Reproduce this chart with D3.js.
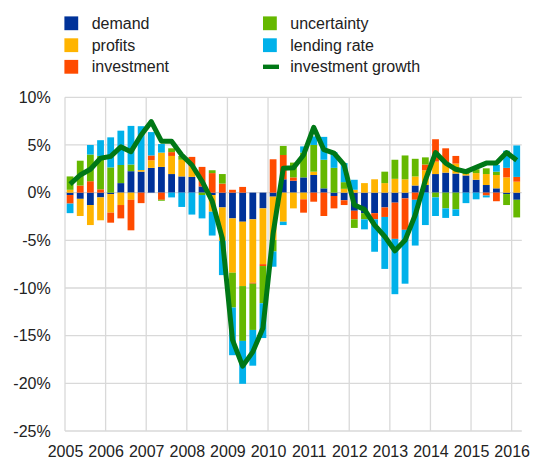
<!DOCTYPE html>
<html>
<head>
<meta charset="utf-8">
<script src="https://cdn.jsdelivr.net/npm/d3@7"></script>
<style>
  body { margin: 0; background: #fff; }
  svg text { font-family: "Liberation Sans", Arial, sans-serif; fill: #222; }
</style>
</head>
<body>
<svg id="chart" width="534" height="459"></svg>
<script>
// Quarterly contributions to investment growth (percentage points), 2005Q1-2016Q1
const quarters = [
  "2005Q1","2005Q2","2005Q3","2005Q4","2006Q1","2006Q2","2006Q3","2006Q4",
  "2007Q1","2007Q2","2007Q3","2007Q4","2008Q1","2008Q2","2008Q3","2008Q4",
  "2009Q1","2009Q2","2009Q3","2009Q4","2010Q1","2010Q2","2010Q3","2010Q4",
  "2011Q1","2011Q2","2011Q3","2011Q4","2012Q1","2012Q2","2012Q3","2012Q4",
  "2013Q1","2013Q2","2013Q3","2013Q4","2014Q1","2014Q2","2014Q3","2014Q4",
  "2015Q1","2015Q2","2015Q3","2015Q4","2016Q1"
];
const demand = [
  -0.25,-0.65,-1.3,-0.5,-0.15,1.0,2.25,2.2,
  2.6,2.7,1.95,1.7,1.65,0.65,-0.25,-1.55,
  -2.7,-3.05,-2.8,-1.65,-0.42,1.4,1.25,1.6,
  1.85,0.45,-0.35,-0.8,-1.9,-2.15,-2.15,-1.55,
  -1.05,-0.6,0.75,0.8,1.95,2.1,2.0,1.8,
  1.35,0.8,0.45,-0.15,-0.75
];
const profits = [
  0.3,-1.8,-2.1,-2.4,-1.95,-1.3,-0.75,0.17,
  0.8,1.5,1.9,1.75,1.1,0,-1.75,-3.5,
  -5.7,-6.75,-6.65,-5.85,-4.55,-3.05,-1.65,-0.7,
  0.35,0,0,0.4,0.3,1.0,1.4,1.0,
  1.45,1.4,0.95,1.55,1.3,0.95,1.05,0.15,
  0.7,1.15,1.4,1.6,1.15
];
const investment = [
  -0.9,0.75,1.2,0.35,-1.05,-1.4,-3.2,-1.1,
  0.5,-0.75,0.4,0,1.0,2.05,2.05,0.95,
  0.3,0.6,-0.1,-0.2,3.5,2.55,0.35,-1.4,
  -0.95,-2.45,-1.3,-0.5,-0.9,0,-0.65,-1.0,
  -3.8,-3.3,-0.75,0.6,2.35,1.6,0.8,0,
  0,-0.3,-0.9,1.0,0.5
];
const uncertainty = [
  1.4,2.6,2.8,3.5,2.65,1.9,0.7,0,
  0,-0.1,0.4,0.4,0,-0.25,0.3,1.0,
  -3.65,-5.75,-4.85,-3.9,-1.2,0.95,1.55,2.6,
  2.8,3.0,2.6,0.7,-0.9,-0.65,0,1.2,
  2.0,2.5,1.85,0.75,-0.5,-1.65,-1.75,0.3,
  0.4,0.6,0.35,-1.15,-1.85
];
const lendingRate = [
  -1.0,0,1.0,1.65,3.15,3.6,4.05,4.6,
  2.45,0.9,-0.5,-1.5,-2.3,-2.45,-2.5,-3.6,
  -5.0,-4.5,-3.75,-3.65,-1.6,-0.35,0,0.65,
  0.9,2.4,1.65,2.0,1.05,-1.05,-3.4,-5.45,
  -5.8,-5.65,-4.8,-3.4,-1.95,-1.0,-0.7,-1.1,
  -0.7,-0.2,0.7,1.8,3.3
];
const investmentGrowth = [
  0.9,1.85,2.45,3.6,3.8,4.8,4.3,6.05,
  7.45,5.4,5.4,3.95,2.9,1.2,-0.9,-4.8,
  -15.45,-18.2,-16.7,-14.2,-4.3,2.55,2.6,3.95,
  6.85,4.5,4.15,2.9,-1.3,-1.75,-3.4,-4.6,
  -6.1,-5.0,-2.35,1.3,4.2,3.1,2.45,2.2,
  2.65,3.1,3.1,4.2,3.4
];
const years = [2005,2006,2007,2008,2009,2010,2011,2012,2013,2014,2015,2016];
const yTicks = [-25,-20,-15,-10,-5,0,5,10];

const seriesKeys = ["demand","profits","investment","uncertainty","lending rate"];
const seriesColors = ["#003299","#FFB400","#FF4B00","#65B800","#00B1EA"];
const lineColor = "#007816";

// Row table for the stack layout
const rows = quarters.map((q, i) => ({
  q,
  "demand": demand[i],
  "profits": profits[i],
  "investment": investment[i],
  "uncertainty": uncertainty[i],
  "lending rate": lendingRate[i]
}));

const svg = d3.select("#chart");
const plotLeft = 65, plotRight = 521.8, plotTop = 97.3, plotBottom = 431;

const xBand = d3.scaleBand().domain(quarters).range([plotLeft, plotRight])
  .paddingInner(0.33).paddingOuter(0.165);
const xYear = d3.scaleLinear().domain([2005, 2016.25]).range([plotLeft, plotRight]);
const y = d3.scaleLinear().domain([-25, 10]).range([plotBottom, plotTop]);
const color = d3.scaleOrdinal().domain(seriesKeys).range(seriesColors);

// Gridlines
const grid = svg.append("g").attr("stroke", "#d9d9d9").attr("stroke-width", 1.3);
grid.selectAll("line.h").data(yTicks).join("line").attr("class", "h")
  .attr("x1", plotLeft).attr("x2", plotRight)
  .attr("y1", d => y(d)).attr("y2", d => y(d));
grid.selectAll("line.v").data(years).join("line").attr("class", "v")
  .attr("x1", d => xYear(d)).attr("x2", d => xYear(d))
  .attr("y1", plotTop).attr("y2", plotBottom);

// Y axis labels
const yAxis = svg.append("g").attr("transform", `translate(${plotLeft},0)`)
  .call(d3.axisLeft(y).tickValues(yTicks).tickSize(0).tickPadding(14.3)
    .tickFormat(d => d + "%"));
yAxis.select(".domain").remove();
yAxis.selectAll("text").style("font-size", "16px");

// X axis labels
const xAxis = svg.append("g").attr("transform", `translate(0,${plotBottom})`)
  .call(d3.axisBottom(xYear).tickValues(years).tickSize(0).tickPadding(15)
    .tickFormat(d3.format("d")));
xAxis.select(".domain").remove();
xAxis.selectAll("text").style("font-size", "16px");

// Stacked contribution bars
const stack = d3.stack().keys(seriesKeys).offset(d3.stackOffsetDiverging);
const layers = stack(rows);
svg.append("g").selectAll("g").data(layers).join("g")
  .attr("fill", d => color(d.key))
  .selectAll("rect").data(d => d).join("rect")
  .attr("x", d => xBand(d.data.q))
  .attr("width", xBand.bandwidth())
  .attr("y", d => y(Math.max(d[0], d[1])))
  .attr("height", d => Math.abs(y(d[0]) - y(d[1])));

// Investment growth line
const line = d3.line()
  .x((d, i) => xBand(quarters[i]) + xBand.bandwidth() / 2)
  .y(d => y(d));
svg.append("path").datum(investmentGrowth)
  .attr("fill", "none").attr("stroke", lineColor)
  .attr("stroke-width", 5).attr("stroke-linejoin", "round")
  .attr("d", line);

// Legend
const legendItems = [
  { name: "demand", type: "box", col: 0, row: 0 },
  { name: "profits", type: "box", col: 0, row: 1 },
  { name: "investment", type: "box", col: 0, row: 2 },
  { name: "uncertainty", type: "box", col: 1, row: 0 },
  { name: "lending rate", type: "box", col: 1, row: 1 },
  { name: "investment growth", type: "line", col: 1, row: 2 }
];
const colX = [64.4, 263], rowY = [23.3, 45.2, 66.8];
const lg = svg.append("g").selectAll("g").data(legendItems).join("g")
  .attr("transform", d => `translate(${colX[d.col]},${rowY[d.row]})`);
lg.filter(d => d.type === "box").append("rect")
  .attr("x", 0).attr("y", -6.9).attr("width", 13.8).attr("height", 13.8)
  .attr("fill", d => color(d.name));
lg.filter(d => d.type === "line").append("rect")
  .attr("x", 0).attr("y", -2.2).attr("width", 16).attr("height", 4.4)
  .attr("fill", lineColor);
lg.append("text").attr("x", 27.3).attr("y", 5.3)
  .style("font-size", "16px").text(d => d.name);
</script>
</body>
</html>
